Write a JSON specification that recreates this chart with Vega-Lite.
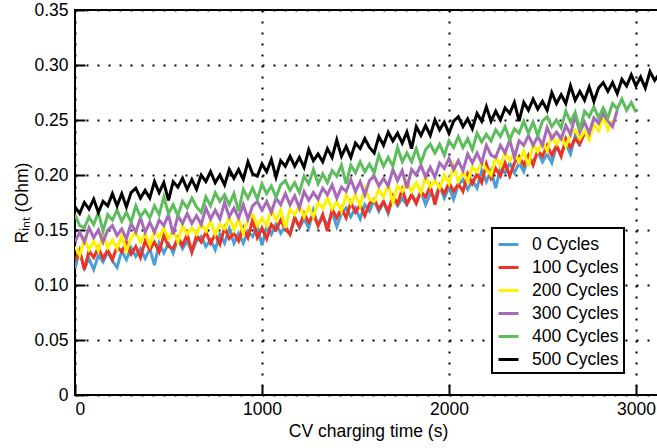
{
"$schema": "https://vega.github.io/schema/vega-lite/v6.json",
"width": 586, "height": 385,
"autosize": {"type": "none"},
"padding": {"left": 75, "top": 10, "right": 0, "bottom": 53},
"background": "white",
"config": {
  "font": "Liberation Sans",
  "view": {"stroke": "#000", "strokeWidth": 2},
  "axis": {"labelFont": "Liberation Sans", "labelFontSize": 17.5, "labelColor": "#000", "titleFont": "Liberation Sans", "titleFontSize": 17.5, "titleFontWeight": "normal", "titleColor": "#000", "domain": false, "tickColor": "#000", "tickWidth": 2, "tickSize": -10, "gridColor": "#000", "gridWidth": 2, "gridDash": [2, 9], "gridOpacity": 1}
},
"data": {"values": [
{"t":0,"0":0.115,"100":0.122,"200":0.135,"300":0.139,"400":0.164,"500":0.171},
{"t":25,"0":0.131,"100":0.131,"200":0.127,"300":0.148,"400":0.154,"500":0.165},
{"t":50,"0":0.115,"100":0.114,"200":0.142,"300":0.139,"400":0.152,"500":0.175},
{"t":75,"0":0.124,"100":0.131,"200":0.132,"300":0.152,"400":0.162,"500":0.169},
{"t":100,"0":0.114,"100":0.125,"200":0.140,"300":0.143,"400":0.155,"500":0.178},
{"t":125,"0":0.127,"100":0.134,"200":0.131,"300":0.150,"400":0.166,"500":0.166},
{"t":150,"0":0.121,"100":0.124,"200":0.147,"300":0.139,"400":0.149,"500":0.176},
{"t":175,"0":0.130,"100":0.132,"200":0.134,"300":0.150,"400":0.164,"500":0.172},
{"t":200,"0":0.122,"100":0.123,"200":0.141,"300":0.154,"400":0.159,"500":0.183},
{"t":225,"0":0.116,"100":0.135,"200":0.133,"300":0.145,"400":0.168,"500":0.172},
{"t":250,"0":0.131,"100":0.130,"200":0.145,"300":0.151,"400":0.158,"500":0.183},
{"t":275,"0":0.123,"100":0.139,"200":0.131,"300":0.142,"400":0.166,"500":0.171},
{"t":300,"0":0.134,"100":0.128,"200":0.143,"300":0.156,"400":0.157,"500":0.184},
{"t":325,"0":0.126,"100":0.135,"200":0.148,"300":0.148,"400":0.172,"500":0.188},
{"t":350,"0":0.133,"100":0.125,"200":0.139,"300":0.161,"400":0.162,"500":0.179},
{"t":375,"0":0.124,"100":0.140,"200":0.147,"300":0.148,"400":0.168,"500":0.186},
{"t":400,"0":0.133,"100":0.132,"200":0.136,"300":0.157,"400":0.161,"500":0.179},
{"t":425,"0":0.118,"100":0.139,"200":0.149,"300":0.148,"400":0.172,"500":0.194},
{"t":450,"0":0.138,"100":0.130,"200":0.143,"300":0.159,"400":0.164,"500":0.184},
{"t":475,"0":0.129,"100":0.145,"200":0.152,"300":0.154,"400":0.180,"500":0.193},
{"t":500,"0":0.138,"100":0.135,"200":0.142,"300":0.164,"400":0.165,"500":0.177},
{"t":525,"0":0.129,"100":0.133,"200":0.150,"300":0.146,"400":0.173,"500":0.194},
{"t":550,"0":0.142,"100":0.143,"200":0.139,"300":0.163,"400":0.163,"500":0.189},
{"t":575,"0":0.133,"100":0.136,"200":0.154,"300":0.156,"400":0.176,"500":0.197},
{"t":600,"0":0.140,"100":0.146,"200":0.146,"300":0.165,"400":0.170,"500":0.187},
{"t":625,"0":0.130,"100":0.130,"200":0.152,"300":0.156,"400":0.179,"500":0.196},
{"t":650,"0":0.140,"100":0.145,"200":0.146,"300":0.163,"400":0.171,"500":0.187},
{"t":675,"0":0.144,"100":0.139,"200":0.156,"300":0.155,"400":0.166,"500":0.200},
{"t":700,"0":0.135,"100":0.148,"200":0.149,"300":0.170,"400":0.180,"500":0.194},
{"t":725,"0":0.141,"100":0.138,"200":0.158,"300":0.160,"400":0.172,"500":0.203},
{"t":750,"0":0.132,"100":0.146,"200":0.146,"300":0.168,"400":0.184,"500":0.193},
{"t":775,"0":0.146,"100":0.137,"200":0.155,"300":0.160,"400":0.176,"500":0.200},
{"t":800,"0":0.138,"100":0.152,"200":0.151,"300":0.175,"400":0.182,"500":0.191},
{"t":825,"0":0.151,"100":0.142,"200":0.162,"300":0.162,"400":0.173,"500":0.205},
{"t":850,"0":0.138,"100":0.147,"200":0.150,"300":0.170,"400":0.183,"500":0.197},
{"t":875,"0":0.147,"100":0.140,"200":0.160,"300":0.161,"400":0.167,"500":0.205},
{"t":900,"0":0.138,"100":0.152,"200":0.147,"300":0.173,"400":0.187,"500":0.196},
{"t":925,"0":0.149,"100":0.143,"200":0.160,"300":0.160,"400":0.179,"500":0.212},
{"t":950,"0":0.144,"100":0.159,"200":0.164,"300":0.172,"400":0.188,"500":0.201},
{"t":975,"0":0.153,"100":0.143,"200":0.154,"300":0.176,"400":0.178,"500":0.199},
{"t":1000,"0":0.136,"100":0.152,"200":0.161,"300":0.168,"400":0.192,"500":0.210},
{"t":1025,"0":0.153,"100":0.142,"200":0.154,"300":0.176,"400":0.183,"500":0.203},
{"t":1050,"0":0.146,"100":0.155,"200":0.169,"300":0.166,"400":0.190,"500":0.214},
{"t":1075,"0":0.156,"100":0.150,"200":0.159,"300":0.179,"400":0.180,"500":0.198},
{"t":1100,"0":0.147,"100":0.159,"200":0.168,"300":0.173,"400":0.191,"500":0.213},
{"t":1125,"0":0.154,"100":0.151,"200":0.152,"300":0.183,"400":0.195,"500":0.208},
{"t":1150,"0":0.146,"100":0.146,"200":0.169,"300":0.173,"400":0.186,"500":0.217},
{"t":1175,"0":0.162,"100":0.161,"200":0.164,"300":0.181,"400":0.193,"500":0.208},
{"t":1200,"0":0.152,"100":0.153,"200":0.172,"300":0.170,"400":0.184,"500":0.216},
{"t":1225,"0":0.160,"100":0.165,"200":0.162,"300":0.185,"400":0.199,"500":0.207},
{"t":1250,"0":0.152,"100":0.157,"200":0.171,"300":0.177,"400":0.192,"500":0.223},
{"t":1275,"0":0.168,"100":0.164,"200":0.162,"300":0.184,"400":0.205,"500":0.213},
{"t":1300,"0":0.154,"100":0.154,"200":0.175,"300":0.178,"400":0.192,"500":0.219},
{"t":1325,"0":0.162,"100":0.164,"200":0.170,"300":0.188,"400":0.201,"500":0.212},
{"t":1350,"0":0.154,"100":0.149,"200":0.179,"300":0.182,"400":0.193,"500":0.224},
{"t":1375,"0":0.166,"100":0.169,"200":0.169,"300":0.191,"400":0.204,"500":0.216},
{"t":1400,"0":0.153,"100":0.161,"200":0.176,"300":0.179,"400":0.199,"500":0.232},
{"t":1425,"0":0.165,"100":0.170,"200":0.167,"300":0.189,"400":0.209,"500":0.217},
{"t":1450,"0":0.170,"100":0.161,"200":0.182,"300":0.185,"400":0.192,"500":0.226},
{"t":1475,"0":0.162,"100":0.175,"200":0.174,"300":0.196,"400":0.209,"500":0.216},
{"t":1500,"0":0.170,"100":0.166,"200":0.182,"300":0.185,"400":0.202,"500":0.229},
{"t":1525,"0":0.160,"100":0.173,"200":0.172,"300":0.194,"400":0.212,"500":0.224},
{"t":1550,"0":0.173,"100":0.163,"200":0.188,"300":0.182,"400":0.203,"500":0.233},
{"t":1575,"0":0.167,"100":0.174,"200":0.178,"300":0.195,"400":0.210,"500":0.225},
{"t":1600,"0":0.177,"100":0.178,"200":0.176,"300":0.199,"400":0.202,"500":0.220},
{"t":1625,"0":0.167,"100":0.169,"200":0.187,"300":0.190,"400":0.218,"500":0.235},
{"t":1650,"0":0.175,"100":0.176,"200":0.180,"300":0.197,"400":0.208,"500":0.227},
{"t":1675,"0":0.165,"100":0.167,"200":0.191,"300":0.190,"400":0.216,"500":0.239},
{"t":1700,"0":0.180,"100":0.181,"200":0.175,"300":0.205,"400":0.208,"500":0.231},
{"t":1725,"0":0.172,"100":0.174,"200":0.190,"300":0.195,"400":0.225,"500":0.238},
{"t":1750,"0":0.179,"100":0.187,"200":0.185,"300":0.204,"400":0.212,"500":0.229},
{"t":1775,"0":0.173,"100":0.174,"200":0.194,"300":0.188,"400":0.220,"500":0.239},
{"t":1800,"0":0.182,"100":0.182,"200":0.185,"300":0.205,"400":0.212,"500":0.224},
{"t":1825,"0":0.176,"100":0.174,"200":0.193,"300":0.200,"400":0.224,"500":0.244},
{"t":1850,"0":0.185,"100":0.185,"200":0.184,"300":0.209,"400":0.211,"500":0.236},
{"t":1875,"0":0.173,"100":0.180,"200":0.199,"300":0.198,"400":0.223,"500":0.245},
{"t":1900,"0":0.183,"100":0.190,"200":0.189,"300":0.207,"400":0.228,"500":0.236},
{"t":1925,"0":0.179,"100":0.173,"200":0.195,"300":0.198,"400":0.220,"500":0.250},
{"t":1950,"0":0.190,"100":0.190,"200":0.188,"300":0.211,"400":0.228,"500":0.241},
{"t":1975,"0":0.179,"100":0.183,"200":0.200,"300":0.206,"400":0.218,"500":0.248},
{"t":2000,"0":0.189,"100":0.193,"200":0.192,"300":0.215,"400":0.231,"500":0.238},
{"t":2025,"0":0.178,"100":0.185,"200":0.209,"300":0.205,"400":0.225,"500":0.249},
{"t":2050,"0":0.191,"100":0.192,"200":0.194,"300":0.213,"400":0.235,"500":0.253},
{"t":2075,"0":0.196,"100":0.185,"200":0.203,"300":0.204,"400":0.225,"500":0.244},
{"t":2100,"0":0.187,"100":0.201,"200":0.194,"300":0.219,"400":0.233,"500":0.251},
{"t":2125,"0":0.195,"100":0.192,"200":0.207,"300":0.211,"400":0.223,"500":0.242},
{"t":2150,"0":0.188,"100":0.201,"200":0.203,"300":0.220,"400":0.238,"500":0.256},
{"t":2175,"0":0.204,"100":0.193,"200":0.212,"300":0.211,"400":0.230,"500":0.249},
{"t":2200,"0":0.194,"100":0.210,"200":0.205,"300":0.227,"400":0.237,"500":0.262},
{"t":2225,"0":0.204,"100":0.197,"200":0.200,"300":0.218,"400":0.231,"500":0.249},
{"t":2250,"0":0.188,"100":0.206,"200":0.216,"300":0.216,"400":0.241,"500":0.258},
{"t":2275,"0":0.206,"100":0.199,"200":0.208,"300":0.227,"400":0.235,"500":0.250},
{"t":2300,"0":0.202,"100":0.211,"200":0.221,"300":0.220,"400":0.244,"500":0.261},
{"t":2325,"0":0.211,"100":0.199,"200":0.213,"300":0.232,"400":0.232,"500":0.256},
{"t":2350,"0":0.202,"100":0.211,"200":0.220,"300":0.216,"400":0.242,"500":0.266},
{"t":2375,"0":0.211,"100":0.217,"200":0.212,"300":0.231,"400":0.238,"500":0.249},
{"t":2400,"0":0.203,"100":0.209,"200":0.222,"300":0.227,"400":0.249,"500":0.266},
{"t":2425,"0":0.216,"100":0.218,"200":0.208,"300":0.236,"400":0.238,"500":0.259},
{"t":2450,"0":0.212,"100":0.209,"200":0.228,"300":0.227,"400":0.248,"500":0.269},
{"t":2475,"0":0.221,"100":0.222,"200":0.221,"300":0.235,"400":0.236,"500":0.260},
{"t":2500,"0":0.212,"100":0.217,"200":0.230,"300":0.227,"400":0.249,"500":0.267},
{"t":2525,"0":0.219,"100":0.227,"200":0.222,"300":0.243,"400":0.253,"500":0.259},
{"t":2550,"0":0.211,"100":0.218,"200":0.236,"300":0.233,"400":0.244,"500":0.275},
{"t":2575,"0":0.226,"100":0.227,"200":0.228,"300":0.239,"400":0.250,"500":0.265},
{"t":2600,"0":0.219,"100":0.217,"200":0.235,"300":0.233,"400":0.243,"500":0.273},
{"t":2625,"0":0.228,"100":0.233,"200":0.226,"300":0.245,"400":0.258,"500":0.265},
{"t":2650,"0":0.219,"100":0.225,"200":0.237,"300":0.237,"400":0.248,"500":0.281},
{"t":2675,"0":0.236,"100":0.233,"200":0.241,"300":0.254,"400":0.257,"500":0.268},
{"t":2700,"0":0.226,"100":0.228,"200":0.233,"300":0.239,"400":0.241,"500":0.276},
{"t":2725,"100":0.238,"200":0.240,"300":0.248,"400":0.258,"500":0.268},
{"t":2750,"200":0.232,"300":0.238,"400":0.253,"500":0.280},
{"t":2775,"200":0.246,"300":0.252,"400":0.262,"500":0.267},
{"t":2800,"200":0.240,"300":0.247,"400":0.252,"500":0.279},
{"t":2825,"200":0.253,"300":0.256,"400":0.261,"500":0.284},
{"t":2850,"200":0.241,"300":0.249,"400":0.252,"500":0.276},
{"t":2875,"200":0.250,"300":0.244,"400":0.265,"500":0.284},
{"t":2900,"300":0.259,"400":0.260,"500":0.274},
{"t":2925,"400":0.269,"500":0.287},
{"t":2950,"400":0.259,"500":0.281},
{"t":2975,"400":0.266,"500":0.291},
{"t":3000,"400":0.257,"500":0.281},
{"t":3025,"500":0.289},
{"t":3050,"500":0.279},
{"t":3075,"500":0.294},
{"t":3100,"500":0.286},
{"t":3125,"500":0.292}
]},
"transform": [
  {"fold": ["0", "100", "200", "300", "400", "500"], "as": ["cycles", "r"]},
  {"filter": "isValid(datum.r)"}
],
"mark": {"type": "line", "strokeWidth": 3, "clip": true, "strokeJoin": "miter"},
"encoding": {
  "x": {"field": "t", "type": "quantitative",
        "scale": {"domain": [0, 3134], "nice": false},
        "axis": {"values": [0, 1000, 2000, 3000], "format": "d", "title": "CV charging time (s)", "labelPadding": 15, "titlePadding": 5, "grid": true}},
  "y": {"field": "r", "type": "quantitative",
        "scale": {"domain": [0, 0.35], "nice": false},
        "axis": {"values": [0, 0.05, 0.1, 0.15, 0.2, 0.25, 0.3, 0.35], "labelExpr": "datum.value == 0 ? '0' : format(datum.value, '.2f')", "title": "Rᵢₙₜ (Ohm)", "labelPadding": 17, "titlePadding": 2, "grid": true}},
  "color": {"field": "cycles", "type": "nominal",
        "scale": {"domain": ["0", "100", "200", "300", "400", "500"], "range": ["#4a9fd8", "#ee3224", "#fff200", "#a868bb", "#5dbd5d", "#000000"]},
        "legend": {"title": null, "orient": "none", "legendX": 417, "legendY": 218, "labelExpr": "datum.label + ' Cycles   '", "symbolType": "stroke", "symbolSize": 400, "symbolStrokeWidth": 3, "labelFontSize": 17.5, "labelColor": "#000", "labelFont": "Liberation Sans", "rowPadding": 3, "padding": 5, "strokeColor": "#000", "fillColor": "#fff", "labelOffset": 12, "labelLimit": 250,
          "encode": {"legend": {"update": {"strokeWidth": {"value": 2}}}}}}
}
}
